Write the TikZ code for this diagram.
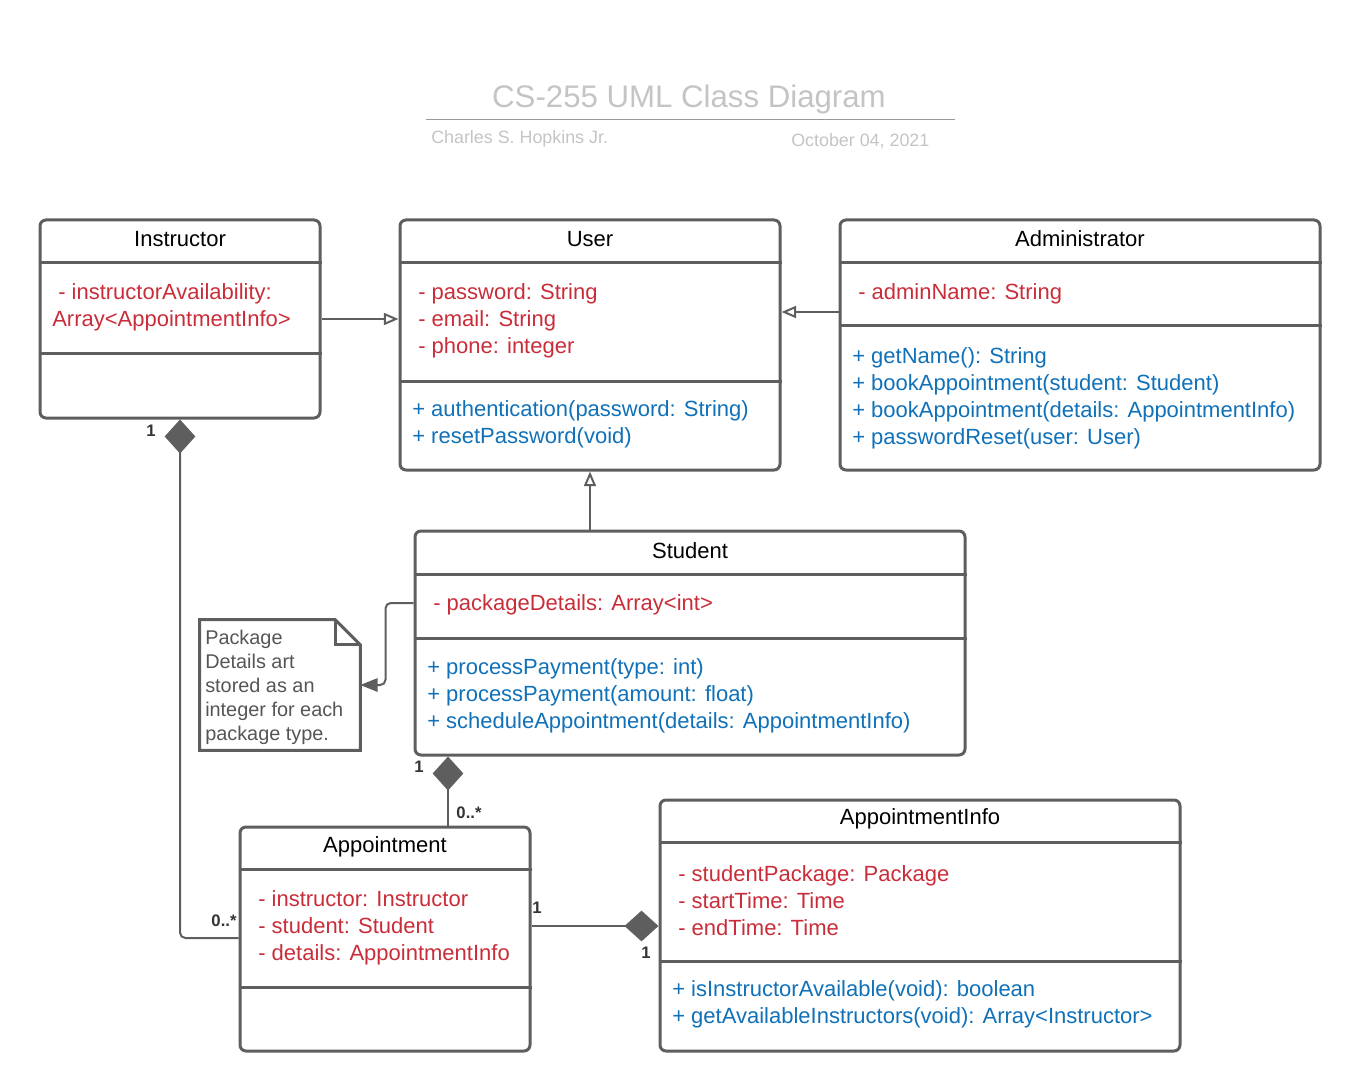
\documentclass[tikz,border=0pt]{standalone}
\usepackage{fontspec}
\setmainfont{Liberation Sans}
\usetikzlibrary{arrows.meta, positioning}
\definecolor{umlline}{HTML}{5E5E5E}
\definecolor{umlred}{HTML}{C92D39}
\definecolor{umlblue}{HTML}{1071B8}
\definecolor{titlegrey}{HTML}{C4C4C4}
\definecolor{notegrey}{HTML}{555555}

\tikzset{
  classbox/.style={draw=umlline, line width=2.25pt, rounded corners=4.5pt, inner sep=0pt},
  divider/.style={draw=umlline, line width=2.25pt},
  classname/.style={font=\fontsize{16.5}{19}\selectfont, text=black, inner sep=0pt},
  attrs/.style={font=\fontsize{16.5}{20.25}\selectfont, text=umlred, align=left, anchor=west, inner sep=0pt},
  ops/.style={attrs, text=umlblue},
  link/.style={draw=umlline, line width=1.5pt},
  inherit/.style={link, -{Triangle[open, length=11pt, width=9pt]}},
  compose/.style={link, rounded corners=4pt, -{Diamond[length=25.5pt, width=23pt]}},
  mult/.style={font=\bfseries\fontsize{12.5}{14}\selectfont, text=black!80, inner sep=0pt},
}

\begin{document}
\begin{tikzpicture}[x=0.75pt, y=-0.75pt]
\useasboundingbox (0,0) rectangle (1360,1091);

% title block
\node[font=\fontsize{23.4}{28}\selectfont, text=titlegrey, inner sep=0pt] (title) at (689,99) {CS-255 UML Class Diagram};
\draw[draw=black!40, line width=0.75pt] (426,120) -- (955,120);
\node[font=\fontsize{13.4}{15}\selectfont, text=titlegrey, anchor=west, inner sep=0pt] (author) at (431,138.5) {Charles S. Hopkins Jr.};
\node[font=\fontsize{13.4}{15}\selectfont, text=titlegrey, anchor=west, inner sep=0pt] (date) at (791,141) {October 04, 2021};

% Instructor
\node[classbox, minimum width=210pt, minimum height=148.5pt] (instr) at (180,319) {};
\node[classname] (instrname) at (180,239) {Instructor};
\draw[divider] (instr.west |- 0,263) -- (instr.east |- 0,263);
\draw[divider] (instr.west |- 0,353) -- (instr.east |- 0,353);
\node[attrs] (iattr) at (52,307.5) {\hspace*{4.5pt}- instructorAvailability:\\Array<AppointmentInfo>};

% User
\node[classbox, minimum width=285pt, minimum height=187.5pt] (user) at (590,345) {};
\node[classname] (username) at (590,239) {User};
\draw[divider] (user.west |- 0,263) -- (user.east |- 0,263);
\draw[divider] (user.west |- 0,381) -- (user.east |- 0,381);
\node[attrs] (uattr) at (418,321) {- password: String\\- email: String\\- phone: integer};
\node[ops] (uops) at (412,424.5) {+ authentication(password: String)\\+ resetPassword(void)};

% Administrator
\node[classbox, minimum width=360pt, minimum height=187.5pt] (admin) at (1080,345) {};
\node[classname] (adminname) at (1080,239) {Administrator};
\draw[divider] (admin.west |- 0,263) -- (admin.east |- 0,263);
\draw[divider] (admin.west |- 0,326) -- (admin.east |- 0,326);
\node[attrs] (aattr) at (858,294) {- adminName: String};
\node[ops] (aops) at (852,398) {+ getName(): String\\+ bookAppointment(student: Student)\\+ bookAppointment(details: AppointmentInfo)\\+ passwordReset(user: User)};

% Student
\node[classbox, minimum width=412.5pt, minimum height=168pt] (student) at (690,643) {};
\node[classname] (studentname) at (690,551) {Student};
\draw[divider] (student.west |- 0,574) -- (student.east |- 0,574);
\draw[divider] (student.west |- 0,638) -- (student.east |- 0,638);
\node[attrs] (sattr) at (433,605) {- packageDetails: Array<int>};
\node[ops] (sops) at (427,696) {+ processPayment(type: int)\\+ processPayment(amount: float)\\+ scheduleAppointment(details: AppointmentInfo)};

% Appointment
\node[classbox, minimum width=217.5pt, minimum height=168pt] (appt) at (385,939) {};
\node[classname] (apptname) at (385,847) {Appointment};
\draw[divider] (appt.west |- 0,869) -- (appt.east |- 0,869);
\draw[divider] (appt.west |- 0,987) -- (appt.east |- 0,987);
\node[attrs] (pattr) at (258,927.5) {- instructor: Instructor\\- student: Student\\- details: AppointmentInfo};

% AppointmentInfo
\node[classbox, minimum width=390pt, minimum height=188.25pt] (ainfo) at (920,925.5) {};
\node[classname] (ainfoname) at (920,819) {AppointmentInfo};
\draw[divider] (ainfo.west |- 0,842) -- (ainfo.east |- 0,842);
\draw[divider] (ainfo.west |- 0,961) -- (ainfo.east |- 0,961);
\node[attrs] (nattr) at (678,900.5) {- studentPackage: Package\\- startTime: Time\\- endTime: Time};
\node[ops] (nops) at (672,1004.5) {+ isInstructorAvailable(void): boolean\\+ getAvailableInstructors(void): Array<Instructor>};

% note
\node[minimum width=120pt, minimum height=97.5pt, inner sep=0pt] (note) at (280,685) {};
\draw[divider] (note.north west) -- ([xshift=-18.75pt]note.north east) -- ([yshift=-18.75pt]note.north east) -- (note.south east) -- (note.south west) -- cycle;
\draw[divider] ([xshift=-18.75pt]note.north east) -- ([xshift=-18.75pt, yshift=-18.75pt]note.north east) -- ([yshift=-18.75pt]note.north east);
\node[font=\fontsize{14.9}{18}\selectfont, text=notegrey, align=left, anchor=west, inner sep=0pt] (notetext) at (205,687) {Package\\Details art\\stored as an\\integer for each\\package type.};

% generalizations
\draw[inherit] (instr.east |- 0,319) -- (user.west |- 0,319);
\draw[inherit] (admin.west |- 0,312) -- (user.east |- 0,312);
\draw[inherit] (student.north -| user.south) -- (user.south);

% note link
\draw[link, rounded corners=4pt, -{Triangle[length=13pt, width=10pt]}] (student.west |- 0,603) -- ++(-28,0) |- (note.east);

% compositions
\coordinate (sa) at (448,0);
\draw[compose] (appt.west |- 0,938) -| (instr.south);
\draw[compose] (appt.north -| sa) -- (student.south -| sa);
\draw[compose] (appt.east |- 0,926) -- (ainfo.west |- 0,926);

% multiplicities
\node[mult] (m1) at (151,431) {1};
\node[mult] (m2) at (224,921) {0..*};
\node[mult] (m3) at (419,767) {1};
\node[mult] (m4) at (469,813) {0..*};
\node[mult] (m5) at (537,908) {1};
\node[mult] (m6) at (646,953) {1};
\end{tikzpicture}
\end{document}
